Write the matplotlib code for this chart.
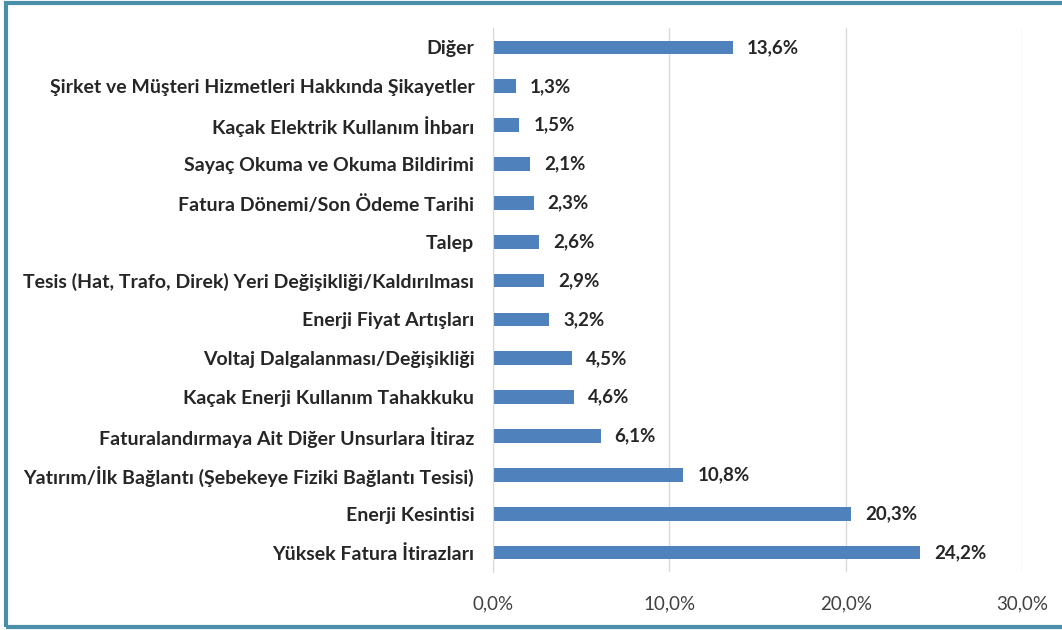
import matplotlib
matplotlib.use("Agg")
import matplotlib.pyplot as plt
from matplotlib.patches import Rectangle

categories = [
    "Diğer",
    "Şirket ve Müşteri Hizmetleri Hakkında Şikayetler",
    "Kaçak Elektrik Kullanım İhbarı",
    "Sayaç Okuma ve Okuma Bildirimi",
    "Fatura Dönemi/Son Ödeme Tarihi",
    "Talep",
    "Tesis (Hat, Trafo, Direk) Yeri Değişikliği/Kaldırılması",
    "Enerji Fiyat Artışları",
    "Voltaj Dalgalanması/Değişikliği",
    "Kaçak Enerji Kullanım Tahakkuku",
    "Faturalandırmaya Ait Diğer Unsurlara İtiraz",
    "Yatırım/İlk Bağlantı (Şebekeye Fiziki Bağlantı Tesisi)",
    "Enerji Kesintisi",
    "Yüksek Fatura İtirazları",
]
values = [13.6, 1.3, 1.5, 2.1, 2.3, 2.6, 2.9, 3.2, 4.5, 4.6, 6.1, 10.8, 20.3, 24.2]
xticks = [0, 10, 20, 30]
xtick_labels = ["0,0%", "10,0%", "20,0%", "30,0%"]

plt.rcParams['font.family'] = ['Lato', 'DejaVu Sans']

fig = plt.figure(figsize=(10.62, 6.3), dpi=100)
ax = fig.add_axes([493/1062, 1 - 572/630, (1022-493)/1062, (572-28)/630])

ypos = list(range(len(categories)))
ax.barh(ypos, values, height=0.35, color="#4f81bd", zorder=3)
ax.set_ylim(len(categories) - 0.5, -0.5)
ax.set_xlim(0, 30)
ax.set_yticks(ypos)
ax.set_yticklabels(categories, fontsize=14, fontweight='bold', color="#262626")
ax.set_xticks(xticks)
ax.set_xticklabels(xtick_labels, fontsize=13.5, color="#404040")
ax.tick_params(axis='y', length=0, pad=13.5)
ax.tick_params(axis='x', length=0, pad=17)
ax.grid(axis='x', color="#d9d9d9", linewidth=1, zorder=0)
for s in ["top", "right", "bottom"]:
    ax.spines[s].set_visible(False)
ax.spines["left"].set_color("#d9d9d9")
ax.spines["left"].set_zorder(4)

for y, v in zip(ypos, values):
    ax.text(v + 0.8, y, f"{v:.1f}%".replace(".", ","), va='center', ha='left',
            fontsize=13.5, fontweight='bold', color="#262626")

fig.patches.append(Rectangle((6/1062, 3/630), 1.1, 624/630, transform=fig.transFigure,
                             fill=False, edgecolor="#4a8fa8", linewidth=3, clip_on=False))

fig.savefig("out.png", dpi=100)
